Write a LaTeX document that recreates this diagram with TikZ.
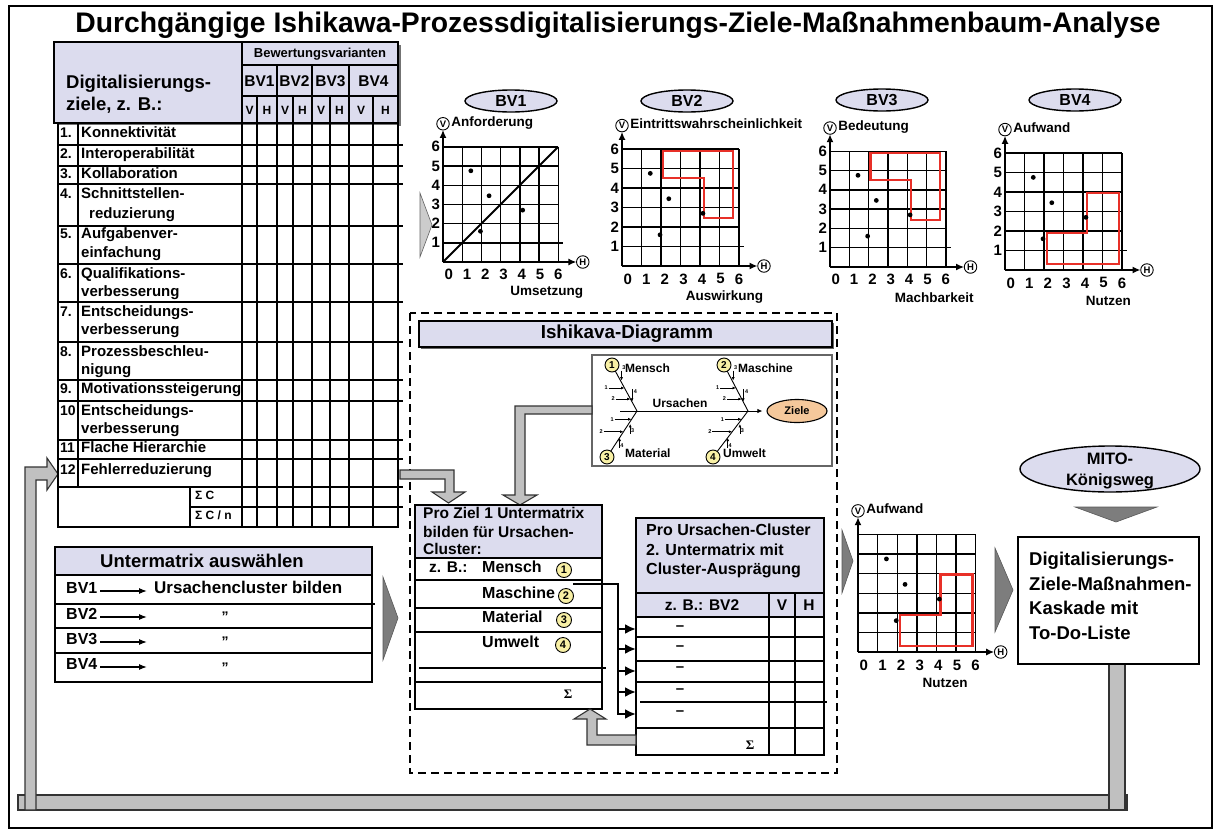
\documentclass[tikz,border=0pt]{standalone}
\usepackage{fontspec}
\setmainfont{Liberation Sans}
\newfontfamily\seriffont{Liberation Serif}
\usetikzlibrary{arrows.meta,calc,shapes.geometric}
\definecolor{lav}{RGB}{220,220,238}
\definecolor{pipegray}{RGB}{192,192,192}
\definecolor{trigray}{RGB}{125,125,125}
\definecolor{redl}{RGB}{232,48,40}
\definecolor{yel}{RGB}{248,240,165}
\definecolor{org}{RGB}{245,200,155}
\newcommand\bfs[2]{\fontsize{#1}{#2}\selectfont\bfseries}
\tikzset{
 tl/.style={line width=1.4pt},
 boxl/.style={line width=1.6pt},
 gridl/.style={line width=1.4pt},
 axisl/.style={line width=2.3pt,-{Latex[length=8pt,width=7pt]}},
 circl/.style={circle,draw,line width=0.9pt,inner sep=0pt,minimum size=12.5pt,font=\bfs{9.5}{10}},
 bvell/.style={ellipse,draw,line width=1.4pt,fill=lav,minimum width=92pt,minimum height=22pt,inner sep=0pt,font=\bfs{16}{18}},
 txt/.style={inner sep=0pt,font=\bfs{15}{18}},
 pipe/.style={fill=pipegray,draw=black!80,line width=1.1pt},
 bigtri/.style={fill=trigray,draw=trigray!70!black,line width=0.6pt},
 numc/.style={circle,draw,line width=0.9pt,fill=yel,inner sep=0pt,minimum size=14pt,font=\bfs{10}{11}},
 bone/.style={line width=0.9pt},
 sarr/.style={line width=0.7pt,-{Latex[length=3.5pt,width=3pt]}},
 tinyn/.style={inner sep=0.5pt,font=\bfs{5.5}{6}},
 redshape/.style={draw=redl,line width=2.4pt},
 bigarr/.style={line width=2.2pt,-{Latex[length=11pt,width=10pt]}},
}
\newcommand\chartbase[7]{%
\begin{scope}[shift={(#1,#2)},x=#3pt,y=#3pt]
 \foreach \k in {1,...,6} {\draw[gridl] (\k,0) -- (\k,6); \draw[gridl] (0,\k) -- (6,\k);}
 #7
 \draw[axisl] (0,0) -- (0,6.88);
 \draw[axisl] (0,0) -- (6.95,0);
 \node[circl] at (7.28,0) {H};
 \node[circl] (vc) at (0,7.2) {V};
 \node[anchor=mid west,inner sep=1.5pt,font=\bfs{13.5}{16}] at (vc.east) {#4};
 \foreach \i in {0,...,6} \node[font=\bfs{15}{18},inner sep=0pt] at ({0.3+\i*0.95},-0.66) {\i};
 \node[font=\bfs{13.5}{16},inner sep=0pt] at (#6,-1.57) {#5};
 \foreach \p in {(1.45,4.75),(2.4,3.45),(1.95,1.6),(4.15,2.7)} \fill \p circle (2.4pt);
\end{scope}}
\newcommand\yticks[3]{%
\begin{scope}[shift={(#1,#2)},x=#3pt,y=#3pt]
 \foreach \i in {1,...,6} \node[anchor=east,inner sep=0pt,font=\bfs{15}{18}] at (-0.15,\i) {\i};
\end{scope}}
\newcommand\ubone[2]{%
 \draw[bone] (#1) -- (#2);
 \path ($(#1)!0.5!(#2)$) coordinate (q1) ($(#1)!0.74!(#2)$) coordinate (q2)
       ($(#1)!0.34!(#2)$) coordinate (q3) ($(#1)!0.8!(#2)$) coordinate (q4);
 \draw[sarr] ($(q1)+(-16,0)$) node[tinyn,anchor=east]{1} -- (q1);
 \draw[sarr] ($(q2)+(-15,0)$) node[tinyn,anchor=east]{2} -- (q2);
 \draw[sarr] ($(q3)+(1,-10)$) node[tinyn,anchor=south west]{3} -- ($(q3)+(1,0)$);
 \draw[sarr] ($(q4)+(0,-13)$) node[tinyn,anchor=north west,xshift=1pt]{4} -- (q4);
}
\newcommand\lbone[2]{%
 \draw[bone] (#1) -- (#2);
 \path ($(#1)!0.82!(#2)$) coordinate (q1) ($(#1)!0.55!(#2)$) coordinate (q2)
       ($(#1)!0.74!(#2)$) coordinate (q3) ($(#1)!0.42!(#2)$) coordinate (q4);
 \draw[sarr] ($(q1)+(-17,0)$) node[tinyn,anchor=east]{1} -- (q1);
 \draw[sarr] ($(q2)+(-20,0)$) node[tinyn,anchor=east]{2} -- (q2);
 \draw[sarr] ($(q3)+(1,11)$) node[tinyn,anchor=west,yshift=3pt]{3} -- ($(q3)+(1,1)$);
 \draw[sarr] ($(q4)+(0,10)$) node[tinyn,anchor=west,yshift=2pt]{4} -- (q4);
}
\begin{document}
\begin{tikzpicture}[x=1pt,y=-1pt]
\useasboundingbox (0,0) rectangle (1218,830);
\fill[white] (0,0) rectangle (1218,830);
\draw[line width=2.2pt] (9,6) rectangle (1212,828);
\node[font=\bfs{28.3}{32},anchor=base,inner sep=0pt] (title) at (618,32) {Durchgängige Ishikawa-Prozessdigitalisierungs-Ziele-Maßnahmenbaum-Analyse};

% ---------- big feedback pipe ----------
\draw[pipe] (18,795) rectangle (1127,810);
\draw[pipe] (1109,664) rectangle (1125,810);
\draw[pipe] (25,810) -- (25,467) -- (47,467) -- (47,458) -- (58,474) -- (47,490) -- (47,480) -- (36,480) -- (36,810) -- cycle;

% ---------- left table ----------
\fill[black!55] (57,45) rectangle (401,126);
\draw[boxl,fill=lav] (54,42) rectangle (398,123);
\fill[white] (58,125) rectangle (398,527);
\draw[tl] (242,42) -- (242,527);
\draw[tl] (242,65) -- (398,65);
\draw[tl] (242,96) -- (398,96);
\foreach \x in {277,312,349} \draw[tl] (\x,65) -- (\x,527);
\foreach \x in {257,293,330,373} \draw[tl] (\x,96) -- (\x,527);
\draw[tl] (58,123) -- (58,527) -- (398,527) -- (398,123);
\draw[tl] (78,123) -- (78,487);
\foreach \y in {145,166,184,226,264,302,342,380,401,440,459,487} \draw[tl] (58,\y) -- (403,\y);
\draw[tl] (190,487) -- (190,527);
\draw[tl] (190,507) -- (403,507);
\node[txt,anchor=mid west,font=\bfs{18.5}{22}] (hd1) at (66,86) {Digitalisierungs-};
\node[txt,anchor=mid west,font=\bfs{18.5}{22}] (hd2) at (66,108) {ziele, z. B.:};
\node[txt,font=\bfs{13}{15}] (bw) at (320,54) {Bewertungsvarianten};
\foreach \x/\l in {259.5/BV1,294.5/BV2,330.5/BV3,373.5/BV4} \node[txt,font=\bfs{15.5}{18}] at (\x,81) {\l};
\foreach \x/\l in {249.5/V,267/H,285/V,302.5/H,321/V,339.5/H,361/V,385.5/H} \node[txt,font=\bfs{12}{14}] at (\x,110) {\l};
\foreach \n/\y/\tx in {1./135/Konnektivität,2./155.5/Interoperabilität,3./175.5/Kollaboration,9./391/Motivationssteigerung,11/450/Flache Hierarchie,12/472/Fehlerreduzierung}{
  \node[txt,anchor=mid west,font=\bfs{14}{16}] at (60,\y) {\n};
  \node[txt,anchor=mid west] at (81,\y) {\tx};}
\foreach \n/\ya/\ta/\yb/\tb/\xb in {4./196/Schnittstellen-/216/reduzierung/89,5./236/Aufgabenver-/255/einfachung/81,6./276/Qualifikations-/294/verbesserung/81,7./314/Entscheidungs-/332/verbesserung/81,8./354/Prozessbeschleu-/372/nigung/81,10/413/Entscheidungs-/431/verbesserung/81}{
  \node[txt,anchor=mid west,font=\bfs{14}{16}] at (60,\ya) {\n};
  \node[txt,anchor=mid west] at (81,\ya) {\ta};
  \node[txt,anchor=mid west] at (\xb,\yb) {\tb};}
\node[txt,anchor=mid west,font=\bfs{12}{14}] (sc) at (195,497) {Σ C};
\node[txt,anchor=mid west,font=\bfs{12}{14}] (scn) at (195,517) {Σ C / n};

% ---------- Untermatrix auswaehlen ----------
\draw[boxl,fill=lav] (55,547) rectangle (372,575);
\draw[boxl,fill=white] (55,575) rectangle (372,682);
\draw[tl] (55,604) -- (375,604);
\draw[tl] (55,628) -- (372,628);
\draw[tl] (55,653) -- (372,653);
\node[txt,font=\bfs{18.5}{21}] (uma) at (202,561) {Untermatrix auswählen};
\foreach \y/\l in {591/BV1,617/BV2,642/BV3,667/BV4}{
  \node[txt,anchor=mid west,font=\bfs{16}{18}] at (66,\y) {\l};
  \draw[line width=1.2pt,-{Latex[length=8pt,width=6pt]}] (100,\y) -- (147,\y);}
\node[txt,anchor=mid west,font=\bfs{17}{20}] (ucb) at (154,591) {Ursachencluster bilden};
\foreach \y in {617,642,668} \node[txt,font=\bfs{14}{16}] at (225,\y) {”};
\draw[bigtri] (383,577) -- (398,618) -- (383,660) -- cycle;

% ---------- charts ----------
\node[bvell] (bv1) at (511,101) {BV1};
\node[bvell] (bv2) at (687,101) {BV2};
\node[bvell] (bv3) at (882,100) {BV3};
\node[bvell] (bv4) at (1075,100) {BV4};
\draw[fill=gray!40,draw=gray!80!black,line width=0.6pt] (420,193) -- (432,225) -- (420,257) -- cycle;
\chartbase{443}{262}{19.2}{Anforderung}{Umsetzung}{5.4}{\draw[gridl] (6,1) -- (6.25,1); \draw[line width=1.8pt] (0,0) -- (6,6);}
\yticks{443}{262}{19.2}
\chartbase{622}{266}{19.5}{Eintrittswahrscheinlichkeit}{Auswirkung}{5.25}{\draw[gridl] (6,1) -- (6.25,1); \draw[redshape] (2.1,5.9) -- (5.7,5.9) -- (5.7,2.45) -- (4.2,2.45) -- (4.2,4.5) -- (2.1,4.5) -- cycle;}
\yticks{622}{266}{19.5}
\chartbase{830}{267}{19.3}{Bedeutung}{Machbarkeit}{5.4}{\draw[gridl] (6,1) -- (6.25,1); \draw[redshape] (2.1,5.9) -- (5.7,5.9) -- (5.7,2.45) -- (4.2,2.45) -- (4.2,4.5) -- (2.1,4.5) -- cycle;}
\yticks{830}{267}{19.3}
\chartbase{1005}{270}{19.5}{Aufwand}{Nutzen}{5.3}{\draw[gridl] (6,1) -- (6.25,1); \draw[redshape] (2.15,0.3) -- (2.15,1.9) -- (4.2,1.9) -- (4.2,3.95) -- (5.85,3.95) -- (5.85,0.3) -- cycle;}
\yticks{1005}{270}{19.5}

% ---------- dashed Ishikawa frame ----------
\draw[line width=1.5pt,dash pattern=on 8pt off 5pt] (410,313) rectangle (837,773);
\fill[black!60] (421,323) rectangle (834,349);
\draw[boxl,fill=lav] (419,321) rectangle (832,347);
\node[txt,font=\bfs{18.8}{21}] (ish) at (627,334) {Ishikava-Diagramm};
\draw[line width=1.1pt,draw=black!60,fill=white] (592,355) rectangle (832,466);
\node[ellipse,draw,line width=1.1pt,fill=org,minimum width=60pt,minimum height=23pt,inner sep=0pt,font=\bfs{11}{12}] (ziele) at (797,411) {Ziele};
\draw[bone,-{Latex[length=5pt,width=4.5pt]}] (620,411) -- ($(ziele.west)+(-4,0)$);
\node[txt,font=\bfs{12}{14}] (urs) at (680,403) {Ursachen};
\coordinate (s1) at (637,411);
\coordinate (s2) at (748,411);
\coordinate (c1) at (612,365);
\coordinate (c2) at (724,365);
\coordinate (c3) at (607,457);
\coordinate (c4) at (713,457);
\ubone{c1}{s1}
\ubone{c2}{s2}
\lbone{c3}{s1}
\lbone{c4}{s2}
\node[numc] at (c1) {1};
\node[numc] at (c2) {2};
\node[numc] at (c3) {3};
\node[numc] at (c4) {4};
\node[txt,anchor=mid west,font=\bfs{12}{14}] at (625,370) {Mensch};
\node[txt,anchor=mid west,font=\bfs{12}{14}] at (738,370) {Maschine};
\node[txt,anchor=mid west,font=\bfs{12}{14}] at (625,455) {Material};
\node[txt,anchor=mid west,font=\bfs{12}{14}] at (723,455) {Umwelt};

% ---------- pipes into submatrix 1 ----------
\draw[pipe] (400,470) -- (454,470) -- (454,492) -- (465,492) -- (448.5,503) -- (432,492) -- (445,492) -- (445,479) -- (400,479) -- cycle;
\draw[pipe] (592,406) -- (592,414) -- (525,414) -- (525,495) -- (537,495) -- (520,505) -- (503,495) -- (515,495) -- (515,406) -- cycle;

% ---------- submatrix 1 ----------
\draw[boxl,fill=lav] (415,505) rectangle (602,558);
\draw[boxl,fill=white] (415,558) rectangle (602,709);
\draw[tl] (415,580) -- (602,580);
\draw[tl] (415,608) -- (602,608);
\draw[tl] (415,632) -- (602,632);
\draw[tl] (419,668) -- (606,668);
\draw[tl] (415,682) -- (602,682);
\node[txt,anchor=mid west,font=\bfs{15.5}{18}] at (423,516) {Pro Ziel 1 Untermatrix};
\node[txt,anchor=mid west,font=\bfs{15.5}{18}] at (423,535) {bilden für Ursachen-};
\node[txt,anchor=mid west,font=\bfs{15.5}{18}] at (423,552) {Cluster:};
\node[txt,anchor=mid west,font=\bfs{15.5}{18}] at (429,570) {z. B.:};
\node[txt,anchor=mid west,font=\bfs{16}{18}] (m1) at (482,570) {Mensch};
\node[txt,anchor=mid west,font=\bfs{16}{18}] (m2) at (482,596) {Maschine};
\node[txt,anchor=mid west,font=\bfs{16}{18}] (m3) at (482,620) {Material};
\node[txt,anchor=mid west,font=\bfs{16}{18}] (m4) at (482,645) {Umwelt};
\node[numc,minimum size=15pt,font=\bfs{11}{12}] at (564,570) {1};
\node[numc,minimum size=15pt,font=\bfs{11}{12}] at (566,596) {2};
\node[numc,minimum size=15pt,font=\bfs{11}{12}] at (564,620) {3};
\node[numc,minimum size=15pt,font=\bfs{11}{12}] at (563,645) {4};
\node[inner sep=0pt,font=\seriffont\bfseries\fontsize{13}{14}\selectfont] at (568,694) {Σ};

% ---------- submatrix 2 ----------
\draw[boxl,fill=lav] (636,518) rectangle (824,593);
\draw[boxl,fill=lav] (636,593) rectangle (824,617);
\draw[boxl,fill=white] (636,617) rectangle (824,755);
\draw[tl] (769,593) -- (769,755);
\draw[tl] (795,593) -- (795,755);
\foreach \y in {637,661,682,728} \draw[tl] (636,\y) -- (824,\y);
\draw[tl] (640,702) -- (827,702);
\node[txt,anchor=mid west,font=\bfs{16}{18}] at (646,533) {Pro Ursachen-Cluster};
\node[txt,anchor=mid west,font=\bfs{16}{18}] at (646,553) {2. Untermatrix mit};
\node[txt,anchor=mid west,font=\bfs{16}{18}] at (646,572) {Cluster-Ausprägung};
\node[txt,font=\bfs{15.5}{18}] at (702,605) {z. B.: BV2};
\node[txt,font=\bfs{15.5}{18}] at (782,605) {V};
\node[txt,font=\bfs{15.5}{18}] at (809,605) {H};
\foreach \y in {628,648,669,691,713} \node[txt,font=\bfs{15}{18}] at (680,\y) {–};
\node[inner sep=0pt,font=\seriffont\bfseries\fontsize{13}{14}\selectfont] at (750,745) {Σ};

% ---------- arrows between submatrices ----------
\draw[line width=2.2pt] (573,584) -- (618,584) -- (618,714);
\foreach \y in {629,649,671,692,714} \draw[bigarr] (617,\y) -- (636,\y);
\draw[pipe] (636,735) -- (636,745) -- (587,745) -- (587,719) -- (574,719) -- (590,709) -- (606,719) -- (597,719) -- (597,735) -- cycle;

% ---------- right part ----------
\draw[bigtri] (842,530) -- (853,561) -- (842,593) -- cycle;
\chartbase{858}{652}{19.6}{Aufwand}{Nutzen}{4.45}{\draw[redshape] (2.15,0.3) -- (2.15,1.9) -- (4.2,1.9) -- (4.2,3.95) -- (5.85,3.95) -- (5.85,0.3) -- cycle;}
\draw[bigtri] (995,548) -- (1013,590) -- (995,632) -- cycle;
\node[ellipse,draw,line width=1.4pt,fill=lav,minimum width=180pt,minimum height=46pt] (mito) at (1110,469) {};
\node[txt,font=\bfs{16.5}{19}] at (1110,459) {MITO-};
\node[txt,font=\bfs{16.5}{19}] at (1110,481) {Königsweg};
\draw[bigtri] (1075,507) -- (1157,507) -- (1116,522) -- cycle;
\draw[boxl,fill=white] (1018,537) rectangle (1199,664);
\node[txt,anchor=mid west,font=\bfs{18.5}{22}] (k1) at (1029,563) {Digitalisierungs-};
\node[txt,anchor=mid west,font=\bfs{18.5}{22}] (k2) at (1029,588) {Ziele-Maßnahmen-};
\node[txt,anchor=mid west,font=\bfs{18.5}{22}] (k3) at (1029,612) {Kaskade mit};
\node[txt,anchor=mid west,font=\bfs{18.5}{22}] (k4) at (1029,637) {To-Do-Liste};
\end{tikzpicture}
\end{document}
